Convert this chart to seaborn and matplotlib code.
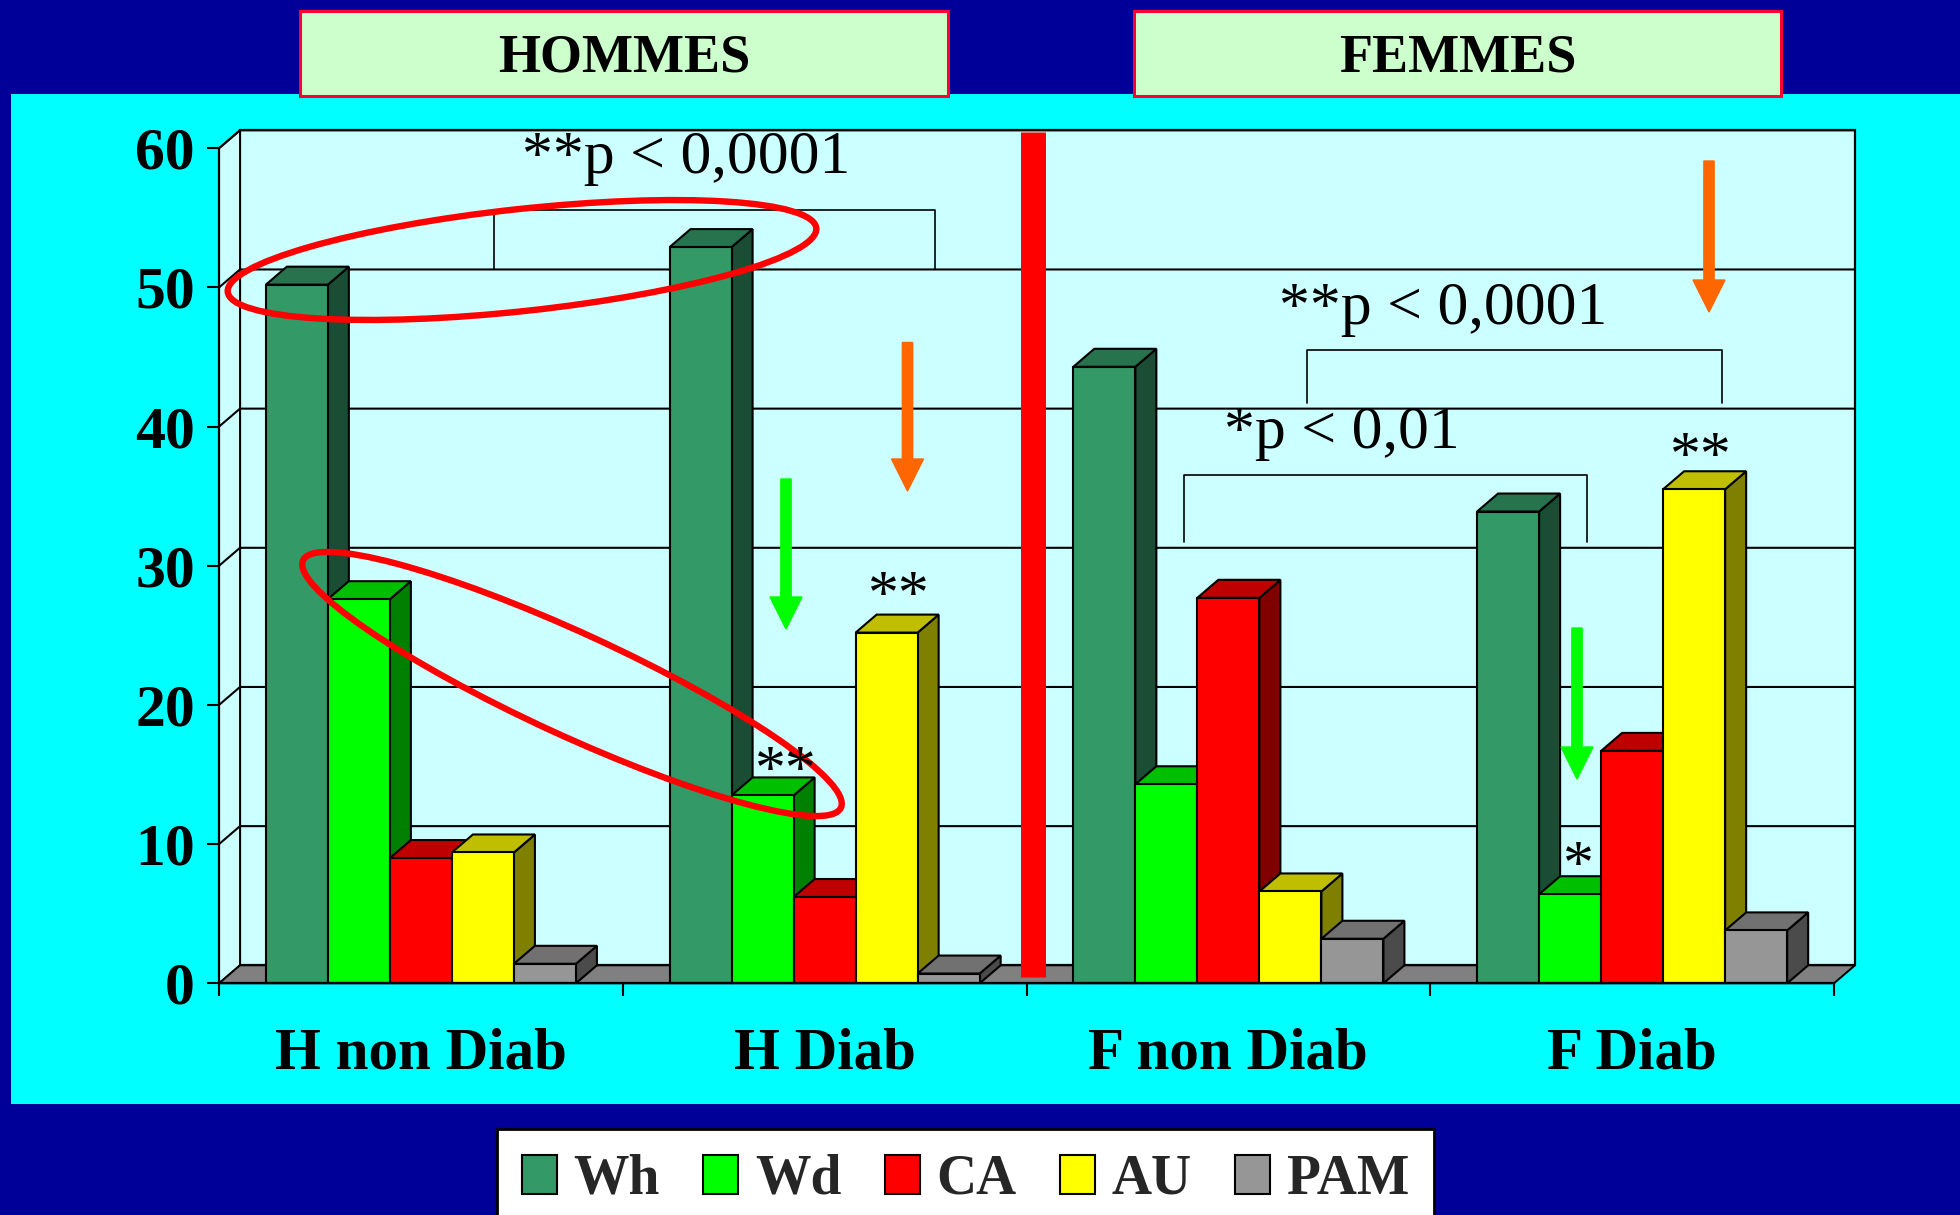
import numpy as np
import pandas as pd
import matplotlib
matplotlib.use("Agg")
import matplotlib.pyplot as plt
import matplotlib.patches as mpatches
from matplotlib.transforms import Affine2D
import seaborn as sns

# ---- data -------------------------------------------------------------
groups = ["H non Diab", "H Diab", "F non Diab", "F Diab"]
series = ["Wh", "Wd", "CA", "AU", "PAM"]
wh = [50.2, 52.9, 44.3, 33.9]
wd = [27.6, 13.5, 14.3, 6.4]
ca = [9.0, 6.2, 27.7, 16.7]
au = [9.4, 25.2, 6.6, 35.5]
pam = [1.4, 0.7, 3.2, 3.8]
colors = ["#339966", "#00FF00", "#FF0000", "#FFFF00", "#969696"]
yticks = [0, 10, 20, 30, 40, 50, 60]
headers = ["HOMMES", "FEMMES"]

values = {"Wh": wh, "Wd": wd, "CA": ca, "AU": au, "PAM": pam}
df = pd.DataFrame(
    [(g, s, v) for s in series for g, v in zip(groups, values[s])],
    columns=["groupe", "serie", "valeur"],
)

# ---- figure -----------------------------------------------------------
W, H, DPI = 1960, 1215, 100
sns.set_theme(style="ticks")
plt.rcParams["font.family"] = ["Liberation Serif", "DejaVu Serif"]

fig = plt.figure(figsize=(W / DPI, H / DPI), dpi=DPI, facecolor="#000099")
# pixel space of the canvas, y pointing down
px = Affine2D().scale(1 / W, -1 / H).translate(0, 1) + fig.transFigure

fig.add_artist(mpatches.Rectangle((11, 94), W - 11, 1010, transform=px,
                                  facecolor="#00FFFF", edgecolor="none", zorder=-5))

ax_left, ax_right, ax_bottom, ax_top = 219, 1834, 983.3, 148.3
ax = fig.add_axes([ax_left / W, 1 - ax_bottom / H,
                   (ax_right - ax_left) / W, (ax_bottom - ax_top) / H])
ax.patch.set_visible(False)

sns.barplot(data=df, x="groupe", y="valeur", hue="serie", order=groups,
            hue_order=series, palette=colors, saturation=1, width=0.768,
            edgecolor="black", linewidth=1.5, errorbar=None, legend=False, ax=ax)
bars = sorted(ax.patches, key=lambda p: p.get_x())

XMIN, XMAX, YMAX = -0.5, 3.5, 60
ax.set_xlim(XMIN, XMAX)
ax.set_ylim(0, YMAX)

# depth of the pseudo-3D extrusion, in data units
dx = 21 * (XMAX - XMIN) / (ax_right - ax_left)
dy = 18 * YMAX / (ax_bottom - ax_top)

wall = "#CCFFFF"
ax.add_patch(mpatches.Rectangle((XMIN + dx, dy), XMAX - XMIN, YMAX, facecolor=wall,
                                edgecolor="black", lw=1.6, zorder=0.2, clip_on=False))
ax.add_patch(mpatches.Polygon([(XMIN, 0), (XMIN, YMAX), (XMIN + dx, YMAX + dy), (XMIN + dx, dy)],
                              facecolor=wall, edgecolor="black", lw=1.4, zorder=0.2, clip_on=False))
ax.add_patch(mpatches.Polygon([(XMIN, 0), (XMAX, 0), (XMAX + dx, dy), (XMIN + dx, dy)],
                              facecolor="#808080", edgecolor="black", lw=1.4, zorder=0.3, clip_on=False))
for v in yticks[1:]:
    ax.plot([XMIN, XMIN + dx, XMAX + dx], [v, v + dy, v + dy], color="black",
            lw=1.5, zorder=0.4, clip_on=False)


def shade(c, f):
    r, g, b = c[:3]
    return (r * f, g * f, b * f)


for j, bar in enumerate(bars):
    x0, w, h = bar.get_x(), bar.get_width(), bar.get_height()
    fc = bar.get_facecolor()
    z = 2 + j * 0.01
    ax.add_patch(mpatches.Polygon([(x0 + w, 0), (x0 + w + dx, dy), (x0 + w + dx, h + dy), (x0 + w, h)],
                                  facecolor=shade(fc, 0.5), edgecolor="black", lw=1.5,
                                  zorder=z, clip_on=False))
    ax.add_patch(mpatches.Polygon([(x0, h), (x0 + w, h), (x0 + w + dx, h + dy), (x0 + dx, h + dy)],
                                  facecolor=shade(fc, 0.75), edgecolor="black", lw=1.5,
                                  zorder=z, clip_on=False))
    bar.set_zorder(z + 0.005)
    bar.set_clip_on(False)

# ---- axes styling -------------------------------------------------------
for side in ("top", "right"):
    ax.spines[side].set_visible(False)
for side in ("left", "bottom"):
    ax.spines[side].set_color("black")
    ax.spines[side].set_linewidth(1.6)
ax.set_xlabel("")
ax.set_ylabel("")
ax.set_yticks(yticks, labels=[str(t) for t in yticks])
ax.tick_params(axis="y", direction="out", length=8.6, width=1.5, pad=8.6,
               colors="black", labelsize=43)
ax.set_xticks(range(len(groups)), labels=groups)
ax.set_xticks([XMIN + i for i in range(len(groups) + 1)], minor=True)
ax.tick_params(axis="x", which="major", length=0, pad=32, labelsize=42.5, colors="black")
ax.tick_params(axis="x", which="minor", direction="out", length=9.4, width=1.5, colors="black")
for lbl in ax.get_xticklabels() + ax.get_yticklabels():
    lbl.set_fontweight("bold")

# separator between men and women
ax.plot([1.516, 1.516], [0.43, 61.2], color="#FF0000", lw=18, solid_capstyle="butt",
        zorder=5, clip_on=False)

# significance brackets and labels
bracket_kw = dict(color="black", lw=1.2, zorder=6, clip_on=False)
ax.plot([0.180, 0.180, 1.273, 1.273], [51.3, 55.6, 55.6, 51.3], **bracket_kw)
ax.plot([2.195, 2.195, 3.222, 3.222], [41.7, 45.5, 45.5, 41.7], **bracket_kw)
ax.plot([1.889, 1.889, 2.887, 2.887], [31.7, 36.5, 36.5, 31.7], **bracket_kw)
txt_kw = dict(ha="center", va="baseline", fontsize=44.5, color="black", zorder=9)
ax.text(0.658, 58.2, "**p < 0,0001", **txt_kw)
ax.text(2.533, 47.4, "**p < 0,0001", **txt_kw)
ax.text(2.280, 38.5, "*p < 0,01", **txt_kw)

# asterisks above the bars that differ
ax.text(0.904, 14.1, "**", **txt_kw)
ax.text(1.183, 26.7, "**", **txt_kw)
ax.text(3.170, 36.7, "**", **txt_kw)
ax.text(2.867, 7.3, "*", **txt_kw)

# highlight ellipses
for (cx, cy), ang in [((522, 260), -6.2), ((572, 684), 24.7)]:
    ax.add_artist(mpatches.Ellipse((cx, cy), 592, 102, angle=ang, transform=px,
                                   fill=False, edgecolor="#FF0000", lw=4.6,
                                   zorder=8, clip_on=False))

# downward arrows
for xa, y0, y1, col in [(907.5, 342.5, 491, "#FF6600"), (786, 479, 629, "#00FF00"),
                        (1709, 161, 312, "#FF6600"), (1577, 628, 779, "#00FF00")]:
    ax.add_artist(mpatches.FancyArrow(xa, y0, 0, y1 - y0, width=10.3, head_width=32,
                                      head_length=32, length_includes_head=True,
                                      color=col, transform=px, zorder=8, clip_on=False))

# ---- header boxes ---------------------------------------------------------
for (x0, x1), label in zip([(300, 948), (1134, 1781)], headers):
    fig.add_artist(mpatches.Rectangle((x0, 11), x1 - x0, 85, transform=px,
                                      facecolor="#CCFFCC", edgecolor="#FF0033", lw=2.2, zorder=1))
    fig.text((x0 + x1) / 2, 71.7, label, transform=px, ha="center", va="baseline",
             fontsize=39, fontweight="bold", color="black", zorder=2)

# ---- legend -------------------------------------------------------------
handles = [mpatches.Patch(facecolor=c, edgecolor="black", lw=1.5, label=s)
           for c, s in zip(colors, series)]
leg = fig.legend(handles=handles, loc="upper left", bbox_to_anchor=(497 / W, 1 - 1129 / H),
                 ncol=5, frameon=True, fancybox=False, edgecolor="black", facecolor="white",
                 framealpha=1, prop={"weight": "bold", "size": 40}, handlelength=0.63,
                 handleheight=0.68, handletextpad=0.3, columnspacing=0.78,
                 borderpad=0.45, borderaxespad=0)
leg.get_frame().set_linewidth(2)

fig.savefig("out.png", dpi=DPI, facecolor=fig.get_facecolor())
